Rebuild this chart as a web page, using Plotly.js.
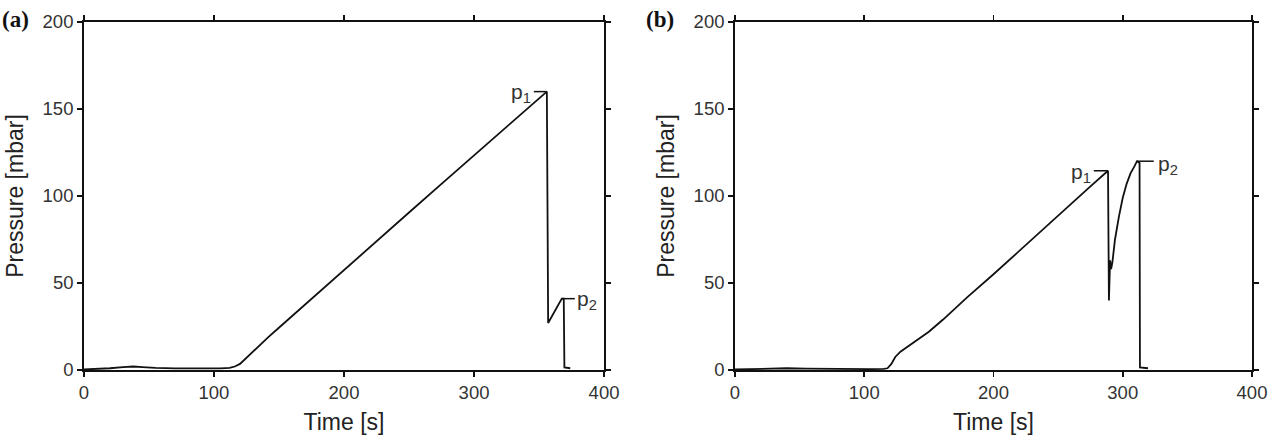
<!DOCTYPE html>
<html>
<head>
<meta charset="utf-8">
<script src="https://cdn.plot.ly/plotly-3.0.1.min.js"></script>
<style>html,body{margin:0;padding:0;background:#fff;}#chart{width:1276px;height:442px;}</style>
</head>
<body>
<div id="chart"></div>
<script>
// Panel (a)
const timeA = [0,10,20,30,38,45,55,70,90,105,112,116,120,125,133,142,151,160,175,200,225,250,275,300,325,345,356,357,360,364,367.5,369,369.5,374];
const pressA = [0.3,0.5,1,1.6,2,1.7,1.2,0.9,0.8,0.9,1.2,2,3.5,7,13,19,25,31,41,57.5,74,90.5,107,123.5,140,153,160,27,31,36,41,41,1.5,1];
// Panel (b)
const timeB = [0,10,20,30,40,55,70,90,105,115,118,121,124,128,133,141,150,161,180,200,225,250,275,288.6,289.3,290.2,291,292,294,297,300,303,306,309,311,313,313.3,319.5];
const pressB = [0.3,0.5,0.9,1.1,1,0.8,0.6,0.5,0.5,0.6,1,3.5,7.5,10.5,13,17,22,29,42,55,72,89,105.5,114.5,40,63,58,62,75,88,99,107,113,117,120,119,1.5,1];

const xTicks = [0,100,200,300,400];
const yTicks = [0,50,100,150,200];
const panelLabels = ['(a)','(b)'];

function peakIndex(arr){let m=0;for(let i=1;i<arr.length;i++){if(arr[i]>arr[m])m=i;}return m;}
const a1 = peakIndex(pressA);
let a2 = a1+1; for(let i=a1+1;i<pressA.length;i++){if(pressA[i]>pressA[a2])a2=i;}
const b1 = (function(){let m=0;for(let i=0;i<timeB.length;i++){if(timeB[i]<289&&pressB[i]>pressB[m])m=i;}return m;})();
const b2 = peakIndex(pressB);

const lineStyle = {color:'#111', width:1.8};
const traces = [
  {x:timeA, y:pressA, type:'scatter', mode:'lines', line:lineStyle, xaxis:'x', yaxis:'y', hoverinfo:'skip'},
  {x:timeB, y:pressB, type:'scatter', mode:'lines', line:lineStyle, xaxis:'x2', yaxis:'y2', hoverinfo:'skip'}
];

const fontFam = '"Liberation Sans", Arial, Helvetica, sans-serif';
function xax(domain, anchor){
  return {domain:domain, anchor:anchor, range:[0,400], tickvals:xTicks, ticktext:xTicks.map(String),
    showgrid:false, zeroline:false, showline:true, linecolor:'#111', linewidth:1.8, mirror:'ticks',
    ticks:'outside', ticklen:5, tickwidth:1.5, tickcolor:'#111',
    tickfont:{family:fontFam, size:18.5, color:'#333'},
    title:{text:'Time [s]', font:{family:fontFam, size:23, color:'#222'}, standoff:12}};
}
function yax(anchor){
  return {domain:[0.1629,0.9502], anchor:anchor, range:[0,200], tickvals:yTicks, ticktext:yTicks.map(String),
    showgrid:false, zeroline:false, showline:true, linecolor:'#111', linewidth:1.8, mirror:'ticks',
    ticks:'outside', ticklen:5, tickwidth:1.5, tickcolor:'#111',
    tickfont:{family:fontFam, size:18.5, color:'#333'},
    title:{text:'Pressure [mbar]', font:{family:fontFam, size:23, color:'#222'}, standoff:12}};
}

function leader(xr, yr, t0, t1, p){
  return {type:'line', xref:xr, yref:yr, x0:t0, x1:t1, y0:p, y1:p, line:{color:'#111', width:1.5}};
}
const shapes = [
  leader('x','y', timeA[a1]-10, timeA[a1], pressA[a1]),
  leader('x','y', timeA[a2], timeA[a2]+10, pressA[a2]),
  leader('x2','y2', timeB[b1]-11, timeB[b1], pressB[b1]),
  leader('x2','y2', timeB[b2], timeB[b2]+13, pressB[b2])
];
const labFont = {family:fontFam, size:21, color:'#333'};
function plab(xr, yr, x, y, n, anchor){
  return {xref:xr, yref:yr, x:x, y:y, text:'p<sub>'+n+'</sub>', showarrow:false, xanchor:anchor, yanchor:'middle', font:labFont};
}
const annotations = [
  plab('x','y', timeA[a1]-11, pressA[a1]-1, 1, 'right'),
  plab('x','y', timeA[a2]+10, pressA[a2]-1, 2, 'left'),
  plab('x2','y2', timeB[b1]-12, pressB[b1]-1, 1, 'right'),
  plab('x2','y2', timeB[b2]+15, pressB[b2]-2, 2, 'left'),
  {xref:'paper', yref:'paper', x:0.0, y:0.955, xanchor:'left', yanchor:'middle', text:'<b>'+panelLabels[0]+'</b>', showarrow:false,
   font:{family:'"Liberation Serif", "Times New Roman", serif', size:23, color:'#111'}},
  {xref:'paper', yref:'paper', x:0.505, y:0.955, xanchor:'left', yanchor:'middle', text:'<b>'+panelLabels[1]+'</b>', showarrow:false,
   font:{family:'"Liberation Serif", "Times New Roman", serif', size:23, color:'#111'}}
];

const layout = {
  width:1276, height:442, margin:{l:0, r:0, t:0, b:0},
  paper_bgcolor:'#fff', plot_bgcolor:'#fff', showlegend:false,
  xaxis: xax([0.0658,0.4734], 'y'),
  yaxis: yax('x'),
  xaxis2: xax([0.5760,0.9812], 'y2'),
  yaxis2: yax('x2'),
  shapes: shapes, annotations: annotations
};
Plotly.newPlot('chart', traces, layout, {displayModeBar:false, staticPlot:true});
</script>
</body>
</html>
